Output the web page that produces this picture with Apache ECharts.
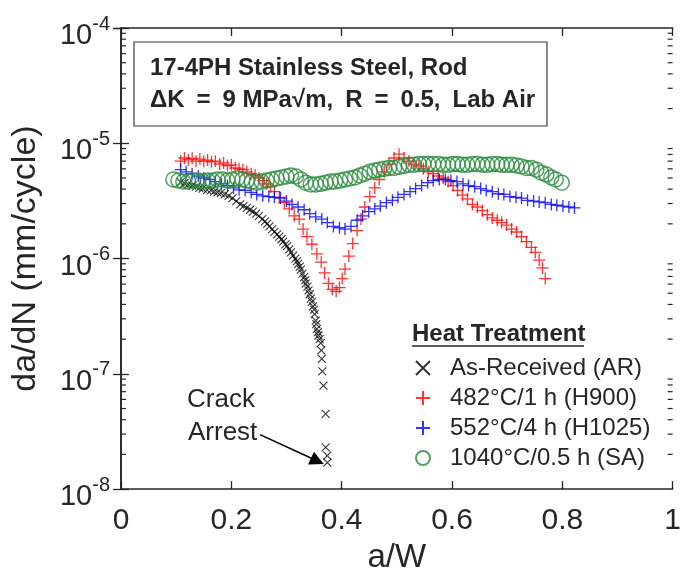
<!DOCTYPE html>
<html>
<head>
<meta charset="utf-8">
<script src="https://cdn.jsdelivr.net/npm/echarts@6/dist/echarts.min.js"></script>
<style>html,body{margin:0;padding:0;background:#fff;}#c{width:684px;height:579px;}</style>
</head>
<body>
<div id="c"></div>
<script>
// ---- data (a/W, da/dN in mm/cycle) ----
const xTicks = [0, 0.2, 0.4, 0.6, 0.8, 1];
const yDecades = [1e-8, 1e-7, 1e-6, 1e-5, 1e-4];
const seriesNames = ['As-Received (AR)', '482°C/1 h (H900)', '552°C/4 h (H1025)', '1040°C/0.5 h (SA)'];

const asReceived = [
  [0.108,4.6e-6],[0.115,4.5e-6],[0.122,4.4e-6],[0.129,4.3e-6],[0.136,4.2e-6],[0.142,4.1e-6],[0.148,4.05e-6],
  [0.156,3.95e-6],[0.163,3.9e-6],[0.169,3.8e-6],[0.175,3.75e-6],[0.181,3.7e-6],[0.188,3.6e-6],[0.195,3.5e-6],
  [0.202,3.35e-6],[0.209,3.15e-6],[0.216,2.95e-6],[0.222,2.85e-6],[0.228,2.75e-6],[0.234,2.65e-6],[0.239,2.55e-6],
  [0.245,2.45e-6],[0.250,2.35e-6],[0.256,2.2e-6],[0.261,2.1e-6],[0.265,2.0e-6],[0.269,1.9e-6],[0.274,1.8e-6],
  [0.278,1.7e-6],[0.283,1.62e-6],[0.287,1.55e-6],[0.291,1.47e-6],[0.294,1.4e-6],[0.298,1.33e-6],[0.301,1.28e-6],
  [0.305,1.2e-6],[0.308,1.13e-6],[0.312,1.06e-6],[0.316,1.0e-6],[0.319,9.5e-7],[0.321,9.0e-7],[0.324,8.5e-7],
  [0.326,8.0e-7],[0.329,7.4e-7],[0.332,6.9e-7],[0.334,6.5e-7],[0.335,6.05e-7],[0.338,5.7e-7],[0.340,5.3e-7],
  [0.342,4.9e-7],[0.344,4.5e-7],[0.346,4.2e-7],[0.348,3.85e-7],[0.350,3.6e-7],[0.351,3.3e-7],[0.353,2.9e-7],
  [0.354,2.7e-7],[0.355,2.45e-7],[0.357,2.3e-7],[0.358,2.15e-7],[0.360,2.0e-7],[0.362,1.85e-7],[0.363,1.6e-7],
  [0.364,1.35e-7],[0.365,1.05e-7],[0.367,7.9e-8],[0.371,4.5e-8],[0.371,2.3e-8],[0.374,1.95e-8],[0.374,1.7e-8]
];

const h900 = [
  [0.108,7.0e-6],[0.115,7.45e-6],[0.122,7.2e-6],[0.129,7.4e-6],[0.136,7.0e-6],[0.143,7.3e-6],[0.150,7.0e-6],
  [0.157,7.15e-6],[0.164,6.9e-6],[0.171,7.0e-6],[0.179,6.6e-6],[0.186,6.75e-6],[0.193,6.4e-6],[0.200,6.5e-6],
  [0.207,6.1e-6],[0.214,6.0e-6],[0.221,5.9e-6],[0.228,5.65e-6],[0.236,5.45e-6],[0.243,5.3e-6],[0.250,5.0e-6],
  [0.257,4.75e-6],[0.264,4.45e-6],[0.271,4.2e-6],[0.278,3.8e-6],[0.287,3.4e-6],[0.296,3.05e-6],[0.305,2.7e-6],
  [0.314,2.35e-6],[0.323,2.2e-6],[0.330,1.8e-6],[0.337,1.55e-6],[0.346,1.33e-6],[0.355,1.1e-6],[0.363,9.3e-7],
  [0.369,7.5e-7],[0.376,6.1e-7],[0.383,5.4e-7],[0.390,5.2e-7],[0.396,5.6e-7],[0.401,6.7e-7],[0.406,8.1e-7],
  [0.413,1.05e-6],[0.420,1.35e-6],[0.428,1.75e-6],[0.435,2.2e-6],[0.442,2.8e-6],[0.451,3.45e-6],[0.460,4.1e-6],
  [0.468,4.85e-6],[0.477,5.65e-6],[0.486,6.6e-6],[0.495,7.45e-6],[0.504,8.05e-6],[0.513,7.45e-6],[0.522,7.0e-6],
  [0.531,6.6e-6],[0.540,6.35e-6],[0.548,6.0e-6],[0.557,5.65e-6],[0.566,5.45e-6],[0.575,5.2e-6],[0.584,5.0e-6],
  [0.593,4.65e-6],[0.602,4.3e-6],[0.610,3.9e-6],[0.619,3.55e-6],[0.628,3.3e-6],[0.637,2.95e-6],[0.646,2.8e-6],
  [0.655,2.6e-6],[0.664,2.4e-6],[0.673,2.25e-6],[0.682,2.15e-6],[0.690,2.05e-6],[0.699,1.95e-6],[0.708,1.8e-6],
  [0.717,1.7e-6],[0.726,1.55e-6],[0.735,1.4e-6],[0.744,1.25e-6],[0.751,1.13e-6],[0.758,9.7e-7],[0.764,8.3e-7],
  [0.769,6.7e-7]
];

const h1025 = [
  [0.108,5.9e-6],[0.118,5.65e-6],[0.129,5.45e-6],[0.140,5.2e-6],[0.150,5.0e-6],[0.161,4.85e-6],[0.171,4.65e-6],
  [0.182,4.45e-6],[0.193,4.3e-6],[0.204,4.1e-6],[0.214,3.95e-6],[0.225,3.9e-6],[0.236,3.75e-6],[0.246,3.6e-6],
  [0.257,3.5e-6],[0.268,3.45e-6],[0.278,3.4e-6],[0.289,3.35e-6],[0.300,3.15e-6],[0.310,2.95e-6],[0.321,2.8e-6],
  [0.332,2.65e-6],[0.342,2.45e-6],[0.353,2.3e-6],[0.364,2.2e-6],[0.374,2.05e-6],[0.385,1.9e-6],[0.396,1.85e-6],
  [0.406,1.8e-6],[0.417,1.9e-6],[0.428,2.15e-6],[0.438,2.35e-6],[0.449,2.55e-6],[0.460,2.7e-6],[0.470,2.85e-6],
  [0.481,3.05e-6],[0.492,3.2e-6],[0.502,3.4e-6],[0.513,3.6e-6],[0.524,3.8e-6],[0.534,4.05e-6],[0.545,4.3e-6],
  [0.556,4.55e-6],[0.566,4.75e-6],[0.577,4.85e-6],[0.588,4.85e-6],[0.598,4.75e-6],[0.609,4.65e-6],[0.620,4.45e-6],
  [0.630,4.3e-6],[0.641,4.2e-6],[0.652,4.05e-6],[0.662,3.9e-6],[0.673,3.8e-6],[0.684,3.65e-6],[0.694,3.6e-6],
  [0.705,3.45e-6],[0.716,3.4e-6],[0.726,3.35e-6],[0.737,3.2e-6],[0.748,3.15e-6],[0.758,3.1e-6],[0.769,3.05e-6],
  [0.780,2.95e-6],[0.790,2.9e-6],[0.801,2.85e-6],[0.812,2.8e-6],[0.822,2.75e-6]
];

const sa = [
  [0.095,4.85e-6],[0.104,4.75e-6],[0.113,4.65e-6],[0.122,4.65e-6],[0.131,4.75e-6],[0.140,4.75e-6],[0.148,4.65e-6],
  [0.157,4.75e-6],[0.166,4.75e-6],[0.175,4.85e-6],[0.184,4.85e-6],[0.193,4.75e-6],[0.202,4.85e-6],[0.211,4.95e-6],
  [0.220,4.85e-6],[0.228,4.75e-6],[0.237,4.65e-6],[0.246,4.55e-6],[0.255,4.65e-6],[0.264,4.75e-6],[0.273,4.85e-6],
  [0.282,4.95e-6],[0.291,5.05e-6],[0.300,5.15e-6],[0.308,5.25e-6],[0.317,5.15e-6],[0.326,4.85e-6],[0.335,4.55e-6],
  [0.344,4.4e-6],[0.353,4.4e-6],[0.362,4.45e-6],[0.371,4.55e-6],[0.380,4.65e-6],[0.388,4.65e-6],[0.397,4.75e-6],
  [0.406,4.85e-6],[0.415,4.95e-6],[0.424,5.05e-6],[0.433,5.25e-6],[0.442,5.45e-6],[0.451,5.65e-6],[0.460,5.8e-6],
  [0.468,5.9e-6],[0.477,6.0e-6],[0.486,6.1e-6],[0.495,6.1e-6],[0.504,6.25e-6],[0.513,6.35e-6],[0.522,6.5e-6],
  [0.531,6.5e-6],[0.540,6.6e-6],[0.548,6.6e-6],[0.557,6.6e-6],[0.566,6.6e-6],[0.575,6.6e-6],[0.584,6.5e-6],
  [0.593,6.5e-6],[0.602,6.6e-6],[0.610,6.6e-6],[0.619,6.5e-6],[0.628,6.5e-6],[0.637,6.6e-6],[0.646,6.6e-6],
  [0.655,6.5e-6],[0.664,6.5e-6],[0.673,6.6e-6],[0.682,6.6e-6],[0.690,6.5e-6],[0.699,6.5e-6],[0.708,6.5e-6],
  [0.717,6.4e-6],[0.726,6.3e-6],[0.735,6.1e-6],[0.744,6.1e-6],[0.753,5.9e-6],[0.762,5.55e-6],[0.771,5.35e-6],
  [0.780,5.05e-6],[0.788,4.85e-6],[0.799,4.55e-6]
];

// arrow for "Crack Arrest" annotation (data coords)
const arrowFrom = [0.252, 2.97e-8];
const arrowTo = [0.356, 1.75e-8];

// minor log tick values
const minorMultipliers = [2, 3, 4, 5, 6, 7, 8, 9];
const minorDecades = [1e-8, 1e-7, 1e-6, 1e-5];

// ---- chart ----
const FONT = "'Liberation Sans', Arial, Helvetica, sans-serif";
const TXT = '#262626';
const CROSS = 'path://M0,0L10,10M10,0L0,10';
const PLUS = 'path://M5,0L5,10M0,5L10,5';
const EN = '\u2002';

const minorData = [];
minorDecades.forEach(d => minorMultipliers.forEach(m => minorData.push([0, m * d])));

const chart = echarts.init(document.getElementById('c'), null, {renderer: 'canvas'});

function yLabel(v) {
  const e = Math.round(Math.log10(v));
  return '{b|10}{s|' + e + '}';
}

const axisLineStyle = {color: TXT, width: 1.6};

const option = {
  animation: false,
  backgroundColor: '#fff',
  textStyle: {fontFamily: FONT},
  grid: {left: 121, top: 28, width: 561, height: 470, containLabel: false},
  xAxis: [{
    type: 'value', position: 'bottom', min: 0, max: 1, interval: 0.2,
    name: 'a/W', nameLocation: 'middle', nameGap: 47,
    nameTextStyle: {fontSize: 33, color: TXT, fontFamily: FONT},
    axisLine: {show: true, lineStyle: axisLineStyle},
    axisTick: {show: true, inside: true, length: 8, lineStyle: {color: TXT, width: 1.3}},
    axisLabel: {fontSize: 30, color: TXT, margin: 17, fontFamily: FONT,
      formatter: v => (xTicks.indexOf(+v.toFixed(1)) >= 0 ? String(+v.toFixed(1)) : '')},
    splitLine: {show: false}
  }, {
    type: 'value', position: 'top', min: 0, max: 1, interval: 0.2,
    axisLine: {show: true, lineStyle: axisLineStyle},
    axisTick: {show: true, inside: true, length: 8, lineStyle: {color: TXT, width: 1.3}},
    axisLabel: {show: false}, splitLine: {show: false}
  }],
  yAxis: [{
    type: 'log', logBase: 10, min: yDecades[0], max: yDecades[yDecades.length - 1],
    position: 'left',
    name: 'da/dN (mm/cycle)', nameLocation: 'middle', nameGap: 78, nameRotate: 90,
    nameTextStyle: {fontSize: 34, color: TXT, fontFamily: FONT},
    axisLine: {show: true, lineStyle: axisLineStyle},
    axisTick: {show: true, inside: true, length: 8, lineStyle: {color: TXT, width: 1.3}},
    axisLabel: {
      margin: 11, color: TXT, formatter: yLabel,
      rich: {
        b: {fontSize: 29, color: TXT, fontFamily: FONT, padding: [16, 0, 0, 0]},
        s: {fontSize: 20, color: TXT, fontFamily: FONT, padding: [0, 0, 8, 0]}
      }
    },
    splitLine: {show: false}
  }, {
    type: 'log', logBase: 10, min: yDecades[0], max: yDecades[yDecades.length - 1],
    position: 'right',
    axisLine: {show: true, lineStyle: axisLineStyle},
    axisTick: {show: true, inside: true, length: 8, lineStyle: {color: TXT, width: 1.3}},
    axisLabel: {show: false}, splitLine: {show: false}
  }],
  legend: {
    orient: 'vertical', left: 410, top: 351, itemWidth: 14, itemHeight: 14, itemGap: 6,
    data: seriesNames,
    textStyle: {fontSize: 24, color: TXT, fontFamily: FONT, padding: [0, 0, 0, 15]},
    selectedMode: false
  },
  graphic: [
    {type: 'rect', shape: {x: 134, y: 42, width: 413, height: 84},
      style: {fill: '#fff', stroke: '#3a3a3a', lineWidth: 1.2}, z: 10},
    {type: 'text', x: 150, y: 68, z: 11,
      style: {text: '17-4PH Stainless Steel, Rod', font: 'bold 24px ' + FONT, fill: TXT, verticalAlign: 'middle'}},
    {type: 'text', x: 150, y: 100, z: 11,
      style: {text: 'ΔK' + EN + '=' + EN + '9 MPa√m,' + EN + 'R' + EN + '=' + EN + '0.5,' + EN + 'Lab Air',
        font: 'bold 24px ' + FONT, fill: TXT, verticalAlign: 'middle'}},
    {type: 'text', x: 412, y: 334, z: 11,
      style: {text: 'Heat Treatment', font: 'bold 24px ' + FONT, fill: TXT, verticalAlign: 'middle'}},
    {type: 'line', shape: {x1: 412, y1: 346, x2: 584, y2: 346}, style: {stroke: TXT, lineWidth: 1.5}, z: 11},
    {type: 'text', x: 187, y: 400, z: 11,
      style: {text: 'Crack', font: '26px ' + FONT, fill: TXT, verticalAlign: 'middle'}},
    {type: 'text', x: 188, y: 433, z: 11,
      style: {text: 'Arrest', font: '26px ' + FONT, fill: TXT, verticalAlign: 'middle'}}
  ],
  series: [
    {
      name: seriesNames[0], type: 'scatter', data: asReceived, symbol: CROSS, symbolSize: 8,
      itemStyle: {color: 'transparent', borderColor: '#000', borderWidth: 1.1},
      markLine: {
        silent: true, symbol: ['none', 'triangle'], symbolSize: 14,
        label: {show: false},
        itemStyle: {color: '#000'},
        lineStyle: {color: '#000', width: 1.6, type: 'solid'},
        emphasis: {disabled: true},
        data: [[{coord: arrowFrom}, {coord: arrowTo}]]
      }
    },
    {
      name: seriesNames[1], type: 'scatter', data: h900, symbol: PLUS, symbolSize: 12,
      itemStyle: {color: 'transparent', borderColor: '#ff0000', borderWidth: 1.3}
    },
    {
      name: seriesNames[2], type: 'scatter', data: h1025, symbol: PLUS, symbolSize: 12,
      itemStyle: {color: 'transparent', borderColor: '#0000ff', borderWidth: 1.3}
    },
    {
      name: seriesNames[3], type: 'scatter', data: sa, symbol: 'circle', symbolSize: 15,
      itemStyle: {color: 'transparent', borderColor: '#2b8a3e', borderWidth: 1.5}
    },
    {
      name: 'minorTicks', type: 'custom', data: minorData, silent: true, clip: false,
      renderItem: function (params, api) {
        const v = api.value(1);
        const pl = api.coord([0, v]);
        const pr = api.coord([1, v]);
        return {
          type: 'group',
          children: [
            {type: 'line', shape: {x1: pl[0], y1: pl[1], x2: pl[0] + 5, y2: pl[1]}, style: {stroke: TXT, lineWidth: 1.2}},
            {type: 'line', shape: {x1: pr[0], y1: pr[1], x2: pr[0] - 5, y2: pr[1]}, style: {stroke: TXT, lineWidth: 1.2}}
          ]
        };
      }
    }
  ]
};
chart.setOption(option);
</script>
</body>
</html>
